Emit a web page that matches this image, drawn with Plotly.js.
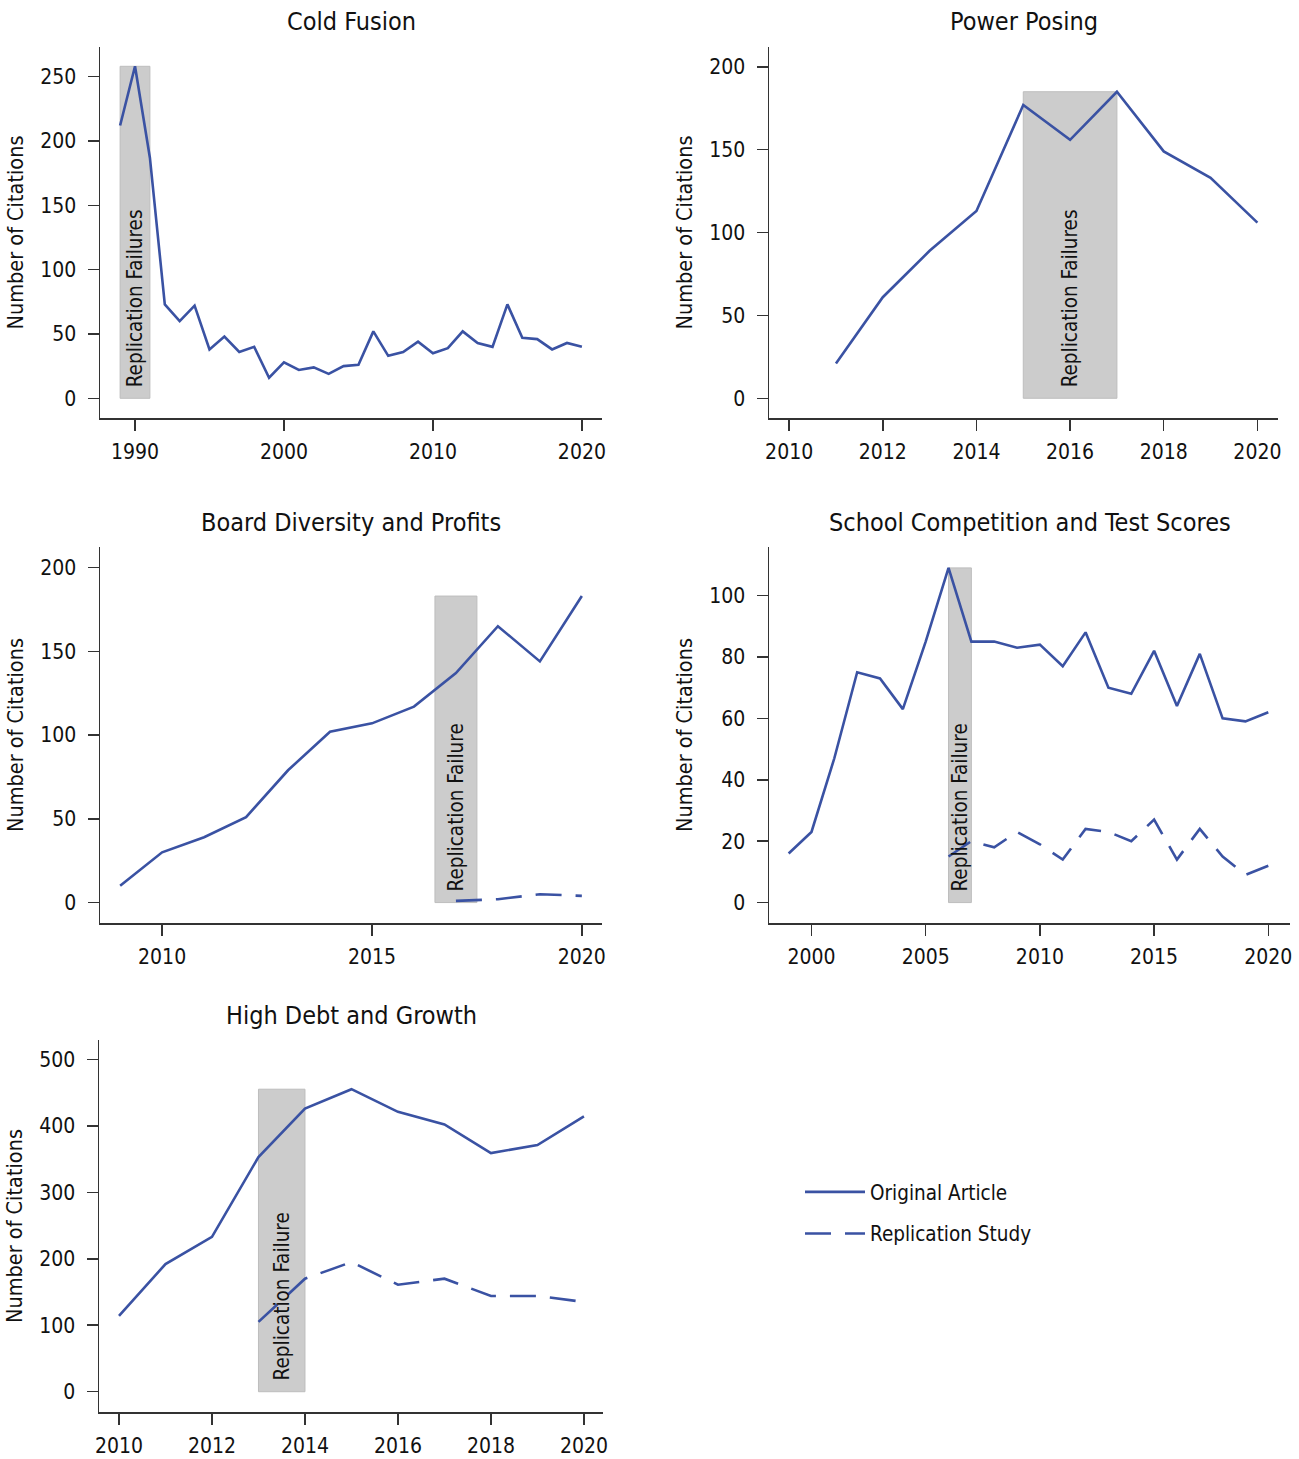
<!DOCTYPE html>
<html>
<head>
<meta charset="utf-8">
<script src="https://cdn.plot.ly/plotly-3.0.1.min.js"></script>
<style>html,body{margin:0;padding:0;background:#fff;}#chart{width:1299px;height:1459px;}</style>
</head>
<body>
<div id="chart"></div>
<script>
// ---------- DATA ----------
const panelTitles = ["Cold Fusion", "Power Posing", "Board Diversity and Profits", "School Competition and Test Scores", "High Debt and Growth"];
const failLabels = ["Replication Failures", "Replication Failures", "Replication Failure", "Replication Failure", "Replication Failure"];
const seriesNames = ["Original Article", "Replication Study"];
const yAxisTitle = "Number of Citations";

const coldYears = [1989,1990,1991,1992,1993,1994,1995,1996,1997,1998,1999,2000,2001,2002,2003,2004,2005,2006,2007,2008,2009,2010,2011,2012,2013,2014,2015,2016,2017,2018,2019,2020];
const coldOrig  = [212,258,187,73,60,72,38,48,36,40,16,28,22,24,19,25,26,52,33,36,44,35,39,52,43,40,73,47,46,38,43,40];
const coldFail  = [1989, 1991];

const powerYears = [2011,2012,2013,2014,2015,2016,2017,2018,2019,2020];
const powerOrig  = [21,61,89,113,177,156,185,149,133,106];
const powerFail  = [2015, 2017];

const boardYears    = [2009,2010,2011,2012,2013,2014,2015,2016,2017,2018,2019,2020];
const boardOrig     = [10,30,39,51,79,102,107,117,137,165,144,183];
const boardRepYears = [2017,2018,2019,2020];
const boardRep      = [1,2,5,4];
const boardFail     = [2016.5, 2017.5];

const schoolYears    = [1999,2000,2001,2002,2003,2004,2005,2006,2007,2008,2009,2010,2011,2012,2013,2014,2015,2016,2017,2018,2019,2020];
const schoolOrig     = [16,23,47,75,73,63,85,109,85,85,83,84,77,88,70,68,82,64,81,60,59,62];
const schoolRepYears = [2006,2007,2008,2009,2010,2011,2012,2013,2014,2015,2016,2017,2018,2019,2020];
const schoolRep      = [15,20,18,23,19,14,24,23,20,27,14,24,15,9,12];
const schoolFail     = [2006, 2007];

const debtYears    = [2010,2011,2012,2013,2014,2015,2016,2017,2018,2019,2020];
const debtOrig     = [114,192,233,353,426,455,421,402,359,371,414];
const debtRepYears = [2013,2014,2015,2016,2017,2018,2019,2020];
const debtRep      = [105,170,195,161,170,144,144,135];
const debtFail     = [2013, 2014];

const xTicks = [[1990,2000,2010,2020],[2010,2012,2014,2016,2018,2020],[2010,2015,2020],[2000,2005,2010,2015,2020],[2010,2012,2014,2016,2018,2020]];
const yTicks = [[0,50,100,150,200,250],[0,50,100,150,200],[0,50,100,150,200],[0,20,40,60,80,100],[0,100,200,300,400,500]];

// ---------- STYLE / LAYOUT ----------
const FONT = "'Liberation Sans Narrow', 'Arial Narrow', 'DejaVu Sans Condensed', sans-serif";
const BLUE = '#3a52a3';
const W = 1299, H = 1459;
const px2x = p => p / W;
const px2y = p => 1 - p / H;

const boxes = [ // [left, right, top, bottom] in px
  [100, 602, 47, 418],
  [769, 1278, 47, 418],
  [100, 602, 547, 923],
  [769, 1290, 547, 923],
  [99, 603, 1040, 1412]
];
const xRanges = [[1987.65, 2021.35],[2009.57, 2020.44],[2008.52, 2020.48],[1998.14, 2020.95],[2009.57, 2020.41]];
const yRanges = [[-15.3, 273],[-11.9, 212],[-12.2, 212.3],[-6.65, 115.8],[-30.5, 529]];

const panels = [
  {years: coldYears, orig: coldOrig, fail: coldFail},
  {years: powerYears, orig: powerOrig, fail: powerFail},
  {years: boardYears, orig: boardOrig, repYears: boardRepYears, rep: boardRep, fail: boardFail},
  {years: schoolYears, orig: schoolOrig, repYears: schoolRepYears, rep: schoolRep, fail: schoolFail},
  {years: debtYears, orig: debtOrig, repYears: debtRepYears, rep: debtRep, fail: debtFail}
];

const traces = [];
const shapes = [];
const annotations = [];
const layout = {
  width: W, height: H,
  margin: {l: 0, r: 0, t: 0, b: 0},
  paper_bgcolor: '#fff', plot_bgcolor: '#fff',
  font: {family: FONT, color: '#111'},
  showlegend: true,
  legend: {
    x: px2x(800), y: px2y(1172), xanchor: 'left', yanchor: 'top',
    font: {family: FONT, size: 20.5, color: '#111'},
    bgcolor: 'rgba(0,0,0,0)', tracegroupgap: 12, itemwidth: 60
  }
};

panels.forEach((p, i) => {
  const n = i === 0 ? '' : String(i + 1);
  const xa = 'x' + n, ya = 'y' + n;
  const b = boxes[i];
  const common = {
    showgrid: false, zeroline: false, showline: true, linecolor: '#333', linewidth: 1.5,
    ticks: 'outside', ticklen: 11, tickwidth: 1.5, tickcolor: '#333',
    tickfont: {family: FONT, size: 21, color: '#111'}, fixedrange: true, automargin: false
  };
  layout['xaxis' + n] = Object.assign({}, common, {
    domain: [px2x(b[0]), px2x(b[1])], range: xRanges[i], anchor: ya,
    tickmode: 'array', tickvals: xTicks[i], ticklabelstandoff: 3
  });
  layout['yaxis' + n] = Object.assign({}, common, {
    domain: [px2y(b[3]), px2y(b[2])], range: yRanges[i], anchor: xa,
    tickmode: 'array', tickvals: yTicks[i], ticklabelstandoff: 7,
    title: {text: yAxisTitle, font: {family: FONT, size: 21.5, color: '#111'}, standoff: 10}
  });

  const peak = Math.max(...p.orig);
  shapes.push({
    type: 'rect', xref: xa, yref: ya, x0: p.fail[0], x1: p.fail[1], y0: 0, y1: peak,
    fillcolor: '#cccccc', line: {color: '#bdbdbd', width: 1}, layer: 'below'
  });
  annotations.push({
    xref: xa, yref: ya, x: (p.fail[0] + p.fail[1]) / 2, y: 0, yshift: 9,
    text: failLabels[i], textangle: -90, showarrow: false,
    xanchor: 'center', yanchor: 'bottom',
    font: {family: FONT, size: 20.5, color: '#111'}
  });
  annotations.push({
    xref: 'paper', yref: 'paper', x: (px2x(b[0]) + px2x(b[1])) / 2, y: px2y(b[2] - 25),
    text: panelTitles[i], showarrow: false, xanchor: 'center', yanchor: 'middle',
    font: {family: FONT, size: 25, color: '#111'}
  });

  traces.push({
    type: 'scatter', mode: 'lines', x: p.years, y: p.orig, xaxis: xa, yaxis: ya,
    name: seriesNames[0], legendgroup: 'orig', showlegend: i === 2,
    line: {color: BLUE, width: 2.6}, hoverinfo: 'skip'
  });
  if (p.rep) {
    traces.push({
      type: 'scatter', mode: 'lines', x: p.repYears, y: p.rep, xaxis: xa, yaxis: ya,
      name: seriesNames[1], legendgroup: 'rep', showlegend: i === 2,
      line: {color: BLUE, width: 2.6, dash: '26px,14px'}, hoverinfo: 'skip'
    });
  }
});

layout.shapes = shapes;
layout.annotations = annotations;

Plotly.newPlot('chart', traces, layout, {staticPlot: true, displayModeBar: false});
</script>
</body>
</html>
